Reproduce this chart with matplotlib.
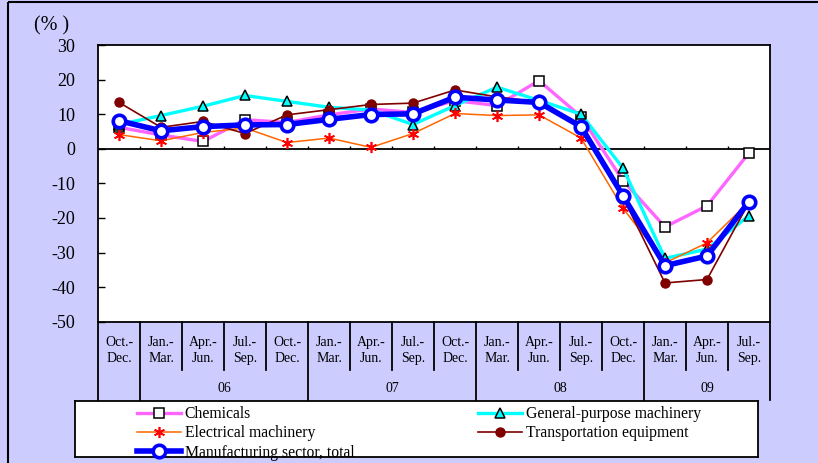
import numpy as np
import matplotlib
matplotlib.use('Agg')
import matplotlib.pyplot as plt
from matplotlib.patches import Rectangle
import matplotlib.transforms as mtransforms

plt.rcParams['font.family'] = ['Liberation Serif', 'DejaVu Serif']
plt.rcParams['axes.unicode_minus'] = False

# quarters and year groups
quarters = ['Oct.-\nDec.', 'Jan.-\nMar.', 'Apr.-\nJun.', 'Jul.-\nSep.',
            'Oct.-\nDec.', 'Jan.-\nMar.', 'Apr.-\nJun.', 'Jul.-\nSep.',
            'Oct.-\nDec.', 'Jan.-\nMar.', 'Apr.-\nJun.', 'Jul.-\nSep.',
            'Oct.-\nDec.', 'Jan.-\nMar.', 'Apr.-\nJun.', 'Jul.-\nSep.']
years = ['05', '06', '06', '06', '06', '07', '07', '07', '07',
         '08', '08', '08', '08', '09', '09', '09']
year_labels = {'05': '', '06': '06', '07': '07', '08': '08', '09': '09'}

chemicals = [6.2, 4.0, 2.1, 8.4, 7.6, 9.8, 11.5, 10.5, 13.9, 12.5, 19.7, 9.3, -9.2, -22.6, -16.5, -1.2]
general = [7.0, 9.6, 12.3, 15.4, 13.7, 12.0, 11.2, 7.0, 12.5, 17.8, 14.0, 10.0, -5.6, -31.7, -29.0, -19.3]
electrical = [4.1, 2.3, 4.7, 6.0, 1.8, 3.1, 0.4, 4.4, 10.2, 9.6, 9.8, 3.1, -17.2, -33.0, -27.2, -15.3]
transport = [13.4, 6.2, 7.9, 4.4, 9.8, 11.3, 12.8, 13.2, 17.0, 15.0, 13.5, 6.5, -14.0, -38.8, -37.8, -15.5]
total = [8.1, 5.2, 6.4, 6.9, 7.0, 8.5, 9.9, 10.1, 14.9, 14.1, 13.4, 6.4, -13.6, -33.8, -31.0, -15.3]

BG = '#CCCCFF'
W, H = 818, 463

fig = plt.figure(figsize=(W / 100, H / 100), dpi=100, facecolor=BG)

# outer frame (only top/left edges visible)
fig.patches.append(Rectangle((8 / W, 1 - 2 / H), 1.0, -1.05, transform=fig.transFigure,
                             fill=False, edgecolor='black', linewidth=1.5))

ax = fig.add_axes([98 / W, (H - 321.7) / H, 672 / W, 276.7 / H])
ax.set_facecolor('white')
x = np.arange(len(quarters))

ax.plot(x, chemicals, color='#FF66FF', lw=2.4, marker='s', ms=6.5, mfc='white',
        mec='black', mew=1.1, label='Chemicals', zorder=3)
ax.plot(x, general, color='#00FFFF', lw=2.4, marker='^', ms=6.5, mfc='#00FFFF',
        mec='black', mew=1.1, label='General-purpose machinery', zorder=3)
ax.plot(x, electrical, color='#FF6600', lw=1.1, marker=(6, 2, 0), ms=8, mec='#FF0000',
        mew=1.2, label='Electrical machinery', zorder=4)
ax.plot(x, transport, color='#800000', lw=1.2, marker='o', ms=6.5, mfc='#800000',
        mec='#800000', label='Transportation equipment', zorder=4)
ax.plot(x, total, color='#0000FF', lw=4, marker='o', ms=9, mfc='white',
        mec='#0000FF', mew=2.6, label='Manufacturing sector, total', zorder=5)

ax.set_xlim(-0.5, len(quarters) - 0.5)
ax.set_ylim(-50, 30)
ax.set_yticks(np.arange(-50, 31, 10))
ax.tick_params(axis='y', direction='in', length=5, width=1, pad=16.5, labelsize=13)
ax.set_xticks([])
for s in ax.spines.values():
    s.set_linewidth(1.3)

# zero line with small boundary ticks
ax.axhline(0, color='black', lw=1.3, zorder=2)
bounds = x[:-1] + 0.5
ax.vlines(bounds, 0, 0.9, color='black', lw=1, zorder=2)

# category table below the plot
trans = mtransforms.blended_transform_factory(ax.transData, ax.transAxes)
cat_bottom = -48 / 276.7
grp_bottom = -78 / 276.7
for i, q in enumerate(quarters):
    ax.text(i, -28.5 / 276.7, q, transform=trans, ha='center', va='center',
            fontsize=10, linespacing=1.3)

group_edges = [-0.5] + [b for b in bounds if years[int(b - 0.5)] != years[int(b + 0.5)]] + [len(quarters) - 0.5]
for b in bounds:
    if b in group_edges:
        continue
    ax.plot([b, b], [0, cat_bottom], transform=trans, color='black', lw=1.3, clip_on=False)
for b in group_edges:
    ax.plot([b, b], [0, grp_bottom], transform=trans, color='black', lw=1.3, clip_on=False)

yrs_order = []
for y in years:
    if y not in yrs_order:
        yrs_order.append(y)
for y in yrs_order:
    idx = [i for i, v in enumerate(years) if v == y]
    ax.text(np.mean(idx), -66.6 / 276.7, year_labels[y], transform=trans,
            ha='center', va='center', fontsize=10)

fig.text(52 / W, 1 - 26 / H, '(% )', ha='center', va='center', fontsize=14.5)

# legend box
lax = fig.add_axes([75 / W, (H - 456.5) / H, 683 / W, 55.5 / H])
lax.set_facecolor('white')
lax.set_xticks([])
lax.set_yticks([])
for s in lax.spines.values():
    s.set_linewidth(1.3)

handles, labels = ax.get_legend_handles_labels()
left = [0, 2, 4]
right = [1, 3]
kw = dict(frameon=False, fontsize=11.3, handlelength=2.8, handletextpad=0.25,
          labelspacing=0.22, borderpad=0, borderaxespad=0, loc='upper left')
leg1 = lax.legend([handles[i] for i in left], [labels[i] for i in left],
                  bbox_to_anchor=((137 - 75) / 683, 0.91), **kw)
lax.add_artist(leg1)
lax.legend([handles[i] for i in right], [labels[i] for i in right],
           bbox_to_anchor=((478 - 75) / 683, 0.91), **kw)

fig.savefig('out.png', dpi=100, facecolor=BG)
